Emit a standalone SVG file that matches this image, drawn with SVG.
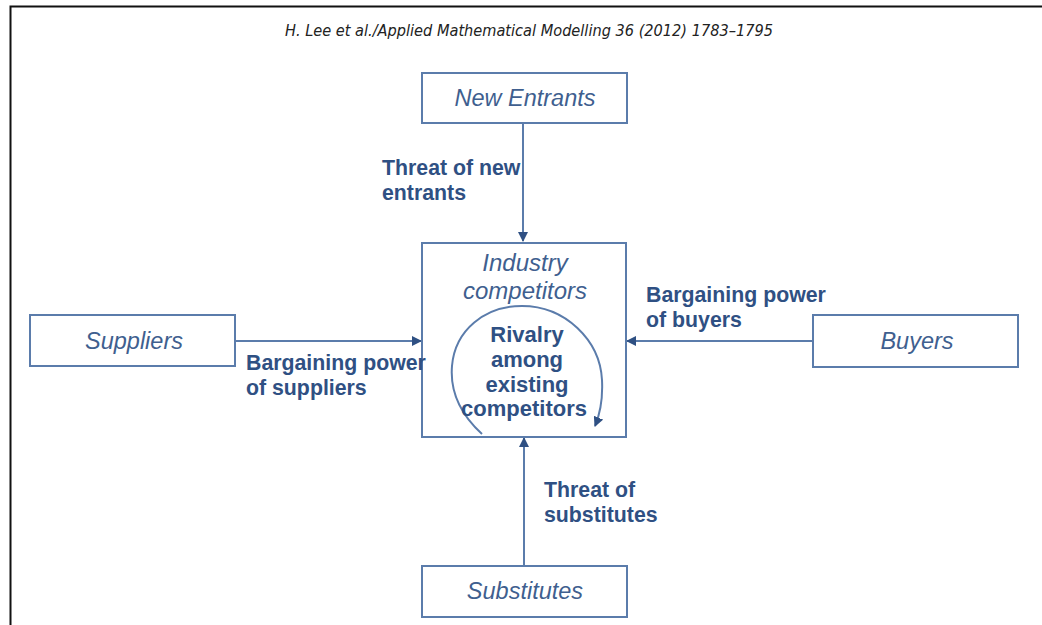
<svg xmlns="http://www.w3.org/2000/svg" width="1042" height="625" viewBox="0 0 1042 625">
<style>
.box{fill:#ffffff;stroke:#5b7cab;stroke-width:2}
.nm{font-family:"Liberation Sans",Arial,sans-serif;font-style:italic;font-size:23.5px;fill:#3f5f8f;text-anchor:middle}
.lb{font-family:"Liberation Sans",Arial,sans-serif;font-weight:bold;font-size:21.3px;fill:#2f5083}
.ctr{text-anchor:middle;font-size:22px}
.ln{fill:none;stroke:#5b7cab;stroke-width:2}
.hdr{font-family:"DejaVu Sans","Liberation Sans",sans-serif;font-style:italic;font-size:15px;fill:#222222;text-anchor:middle}
</style>
<defs>
<marker id="ah" viewBox="0 0 10 10" refX="9" refY="5" markerWidth="5" markerHeight="5" orient="auto" markerUnits="strokeWidth">
<path d="M0,0 L10,5 L0,10 z" fill="#2f5083"/>
</marker>
</defs>
<rect x="0" y="0" width="1042" height="625" fill="#ffffff"/>
<path d="M10.5,625 V6.5 H1042" fill="none" stroke="#111111" stroke-width="2"/>
<text class="hdr" x="529" y="36" textLength="488" lengthAdjust="spacingAndGlyphs">H. Lee et al./Applied Mathematical Modelling 36 (2012) 1783–1795</text>

<g id="connectors">
<line class="ln" x1="523" y1="124" x2="523" y2="241" marker-end="url(#ah)"/>
<line class="ln" x1="524" y1="565" x2="524" y2="438" marker-end="url(#ah)"/>
<line class="ln" x1="235" y1="341" x2="421" y2="341" marker-end="url(#ah)"/>
<line class="ln" x1="812" y1="341" x2="627" y2="341" marker-end="url(#ah)"/>
<path class="ln" d="M482,434 C458,412 450,390 452,366 C455,330 485,306 522,306 C565,306 600,340 602,380 C603,400 600,414 595,426" marker-end="url(#ah)"/>
</g>

<g id="new-entrants">
<rect class="box" x="422" y="73" width="205" height="50"/>
<text class="nm" x="525" y="106">New Entrants</text>
</g>
<g id="industry">
<rect class="box" x="422" y="243" width="204" height="194" style="fill:none"/>
<text class="nm" x="525" y="271" style="font-size:24px">Industry</text>
<text class="nm" x="525" y="299" style="font-size:24px">competitors</text>
<text class="lb ctr" x="527" y="342">Rivalry</text>
<text class="lb ctr" x="527" y="367">among</text>
<text class="lb ctr" x="527" y="392">existing</text>
<text class="lb ctr" x="524" y="416">competitors</text>
</g>
<g id="suppliers">
<rect class="box" x="30" y="315" width="205" height="51"/>
<text class="nm" x="134" y="349">Suppliers</text>
</g>
<g id="buyers">
<rect class="box" x="813" y="315" width="205" height="52"/>
<text class="nm" x="917" y="349">Buyers</text>
</g>
<g id="substitutes">
<rect class="box" x="422" y="566" width="205" height="51"/>
<text class="nm" x="525" y="599">Substitutes</text>
</g>

<g id="labels">
<text class="lb" x="382" y="175">Threat of new</text>
<text class="lb" x="382" y="200">entrants</text>
<text class="lb" x="246" y="370">Bargaining power</text>
<text class="lb" x="246" y="395">of suppliers</text>
<text class="lb" x="646" y="302">Bargaining power</text>
<text class="lb" x="646" y="327">of buyers</text>
<text class="lb" x="544" y="497">Threat of</text>
<text class="lb" x="544" y="522">substitutes</text>
</g>
</svg>
